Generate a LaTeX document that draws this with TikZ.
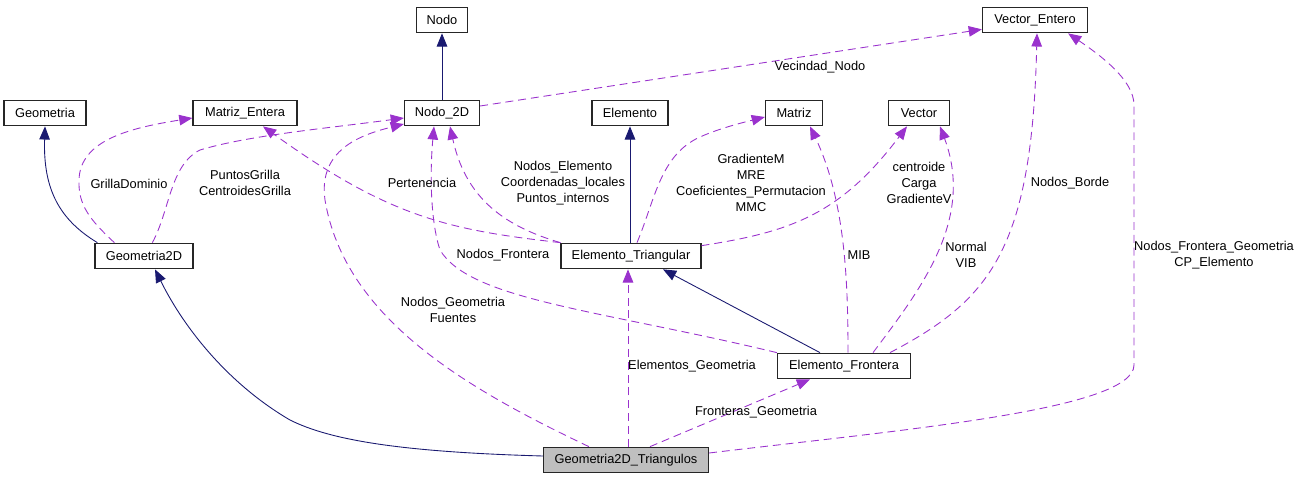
\documentclass[tikz,border=0pt]{standalone}
\usepackage{fontspec}
\setmainfont{Liberation Sans}
\usetikzlibrary{arrows.meta, calc}
\definecolor{edgeblue}{HTML}{191970}
\definecolor{edgepurple}{HTML}{9A32CD}

\begin{document}
\begin{tikzpicture}[
    x=0.02cm, y=-0.02cm,
    font=\fontsize{7.3}{9}\selectfont,
    classbox/.style={rectangle, draw=black!85, line width=0.7pt, fill=white, minimum height=0.51cm, inner sep=0pt},
    derives/.style={draw=edgeblue, line width=0.5pt, -{Triangle[length=7.5pt, width=6pt]}},
    member/.style={draw=edgepurple, line width=0.5pt, dash pattern=on 4.5pt off 2.8pt, -{Triangle[length=7.5pt, width=6pt]}},
    lbl/.style={align=center, inner sep=1pt}
]
    \useasboundingbox (0,0) rectangle (1299,480);

    \node[classbox, minimum width=1.02cm] (nodo) at (442,20) {Nodo};
    \node[classbox, minimum width=2.1cm] (vecent) at (1035,20) {Vector\_Entero};
    \node[classbox, minimum width=1.64cm] (geom) at (45,113) {Geometria};
    \node[classbox, minimum width=2.08cm] (matent) at (245,113) {Matriz\_Entera};
    \node[classbox, minimum width=1.5cm] (nodo2d) at (442,113) {Nodo\_2D};
    \node[classbox, minimum width=1.52cm] (elem) at (630,113) {Elemento};
    \node[classbox, minimum width=1.14cm] (matriz) at (794,113) {Matriz};
    \node[classbox, minimum width=1.22cm] (vector) at (919,113) {Vector};
    \node[classbox, minimum width=1.96cm] (geom2d) at (144,256) {Geometria2D};
    \node[classbox, minimum width=2.8cm] (eltri) at (631,256) {Elemento\_Triangular};
    \node[classbox, minimum width=2.66cm] (elfro) at (844,366) {Elemento\_Frontera};
    \node[classbox, fill=black!25, minimum width=3.3cm] (g2dtri) at (626,460) {Geometria2D\_Triangulos};

    % herencia
    \draw[derives] (nodo2d) -- (nodo);
    \draw[derives] (elem.south |- eltri.north) -- (elem.south);
    \draw[derives] ($(elfro.north)+(-24,0)$) -- ($(eltri.south)+(32,0)$);
    \draw[derives] ($(geom2d.north west)+(3,0)$) .. controls (60,220) and (43,190) .. (geom.south);
    \draw[derives] ($(g2dtri.west)+(0,-4)$) .. controls (400,452) and (330,440) .. (290,420)
        .. controls (230,385) and (185,330) .. ($(geom2d.south)+(11,0)$);

    % uso
    \draw[member] ($(nodo2d.east)+(0,-7)$) -- ($(vecent.south west)+(0,-4)$);
    \draw[member] ($(geom2d.north west)+(20,0)$) .. controls (90,220) and (78,205) .. (79,180)
        .. controls (80,140) and (130,128) .. ($(matent.west)+(0,5)$);
    \draw[member] ($(geom2d.north west)+(58,0)$) .. controls (170,210) and (170,165) .. (200,150)
        .. controls (250,135) and (330,128) .. ($(nodo2d.west)+(0,5)$);
    \draw[member] (eltri.north west) .. controls (450,230) and (390,218) .. ($(matent.south)+(18,0)$);
    \draw[member] (eltri.north west) .. controls (500,225) and (465,195) .. ($(nodo2d.south)+(8,0)$);
    \draw[member] ($(eltri.north)+(6,0)$) .. controls (655,200) and (660,155) .. (700,137)
        .. controls (720,128) and (745,122) .. ($(matriz.west)+(0,4)$);
    \draw[member] ($(eltri.north east)+(0,3)$) .. controls (790,232) and (840,215) .. ($(vector.south)+(-12,0)$);
    \draw[member] (elfro.north west) .. controls (600,310) and (470,300) .. (440,250)
        .. controls (430,220) and (430,170) .. ($(nodo2d.south)+(-8,0)$);
    \draw[member] ($(elfro.north)+(4,0)$) .. controls (848,280) and (845,200) .. ($(matriz.south)+(16,0)$);
    \draw[member] ($(elfro.north)+(29,0)$) .. controls (920,290) and (975,220) .. ($(vector.south)+(21,0)$);
    \draw[member] ($(elfro.north)+(46,0)$) .. controls (990,300) and (1032,250) .. ($(vecent.south)+(2,0)$);
    \draw[member] ($(g2dtri.north west)+(46,0)$) .. controls (470,390) and (345,320) .. (325,200)
        .. controls (318,150) and (360,135) .. ($(nodo2d.west)+(0,11)$);
    \draw[member] ($(g2dtri.north)+(2,0)$) -- ($(eltri.south)+(-3,0)$);
    \draw[member] ($(g2dtri.north)+(24,0)$) -- ($(elfro.south)+(-34,0)$);
    \draw[member] ($(g2dtri.east)+(0,-7)$) .. controls (900,430) and (1134,410) .. (1134,365)
        -- (1134,105) .. controls (1134,80) and (1100,55) .. ($(vecent.south east)+(-20,0)$);

    % etiquetas
    \node[lbl] (lvecindad) at (820,67) {Vecindad\_Nodo};
    \node[lbl] (lgrilla) at (129,184) {GrillaDominio};
    \node[lbl] (lpuntos) at (245,183) {PuntosGrilla\\CentroidesGrilla};
    \node[lbl] (lperten) at (422,183) {Pertenencia};
    \node[lbl] (lnodosel) at (563,183) {Nodos\_Elemento\\Coordenadas\_locales\\Puntos\_internos};
    \node[lbl] (lgradm) at (751,183) {GradienteM\\MRE\\Coeficientes\_Permutacion\\MMC};
    \node[lbl] (lcentro) at (919,183) {centroide\\Carga\\GradienteV};
    \node[lbl] (lborde) at (1070,183) {Nodos\_Borde};
    \node[lbl] (lnodosfr) at (503,255) {Nodos\_Frontera};
    \node[lbl] (lmib) at (859,255) {MIB};
    \node[lbl] (lnormal) at (966,255) {Normal\\VIB};
    \node[lbl] (lcp) at (1214,255) {Nodos\_Frontera\_Geometria\\CP\_Elemento};
    \node[lbl] (lnodosgeo) at (453,310) {Nodos\_Geometria\\Fuentes};
    \node[lbl] (lelems) at (692,366) {Elementos\_Geometria};
    \node[lbl] (lfronts) at (756,412) {Fronteras\_Geometria};
\end{tikzpicture}
\end{document}
